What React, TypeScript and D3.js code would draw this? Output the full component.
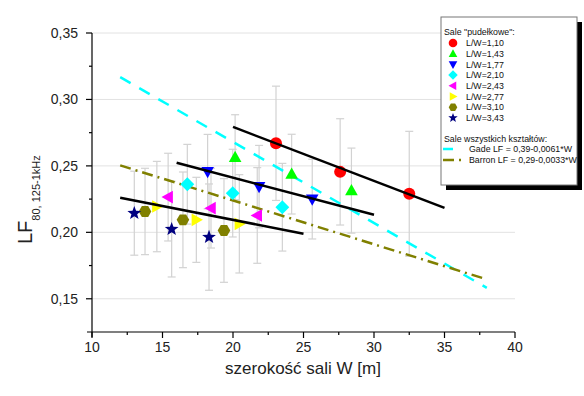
import React, { useEffect, useRef } from 'react';
import * as d3 from 'd3';

// Series: rooms grouped by L/W ratio
const seriesLabels = ['L/W=1,10', 'L/W=1,43', 'L/W=1,77', 'L/W=2,10', 'L/W=2,43', 'L/W=2,77', 'L/W=3,10', 'L/W=3,43'];
const seriesColors = ['#ff0000', '#00ff00', '#0000ff', '#00ffff', '#ff00ff', '#ffff00', '#808000', '#000080'];
const seriesShapes = ['circle', 'triangleUp', 'triangleDown', 'diamond', 'triangleLeft', 'triangleRight', 'hexagon', 'star'];

const widthW = [
  [23.05, 27.6, 32.5],
  [20.15, 24.16, 28.4],
  [18.2, 21.85, 25.62],
  [16.76, 19.98, 23.5],
  [15.4, 18.44, 21.72],
  [14.6, 17.4, 20.45],
  [13.76, 16.45, 19.36],
  [13.0, 15.65, 18.3],
];
const valueLF = [
  [0.267, 0.2455, 0.229],
  [0.2565, 0.2438, 0.2314],
  [0.2457, 0.2344, 0.225],
  [0.2362, 0.2295, 0.2189],
  [0.2265, 0.2182, 0.2127],
  [0.2194, 0.2094, 0.2064],
  [0.2157, 0.2094, 0.2014],
  [0.2144, 0.2024, 0.1964],
];
const errorLF = [
  [0.043, 0.04, 0.047],
  [0.032, 0.03, 0.032],
  [0.028, 0.031, 0.03],
  [0.03, 0.033, 0.033],
  [0.033, 0.03, 0.036],
  [0.034, 0.032, 0.037],
  [0.0325, 0.036, 0.039],
  [0.0316, 0.036, 0.04],
];

// Black regression segments
const fitLines: [number, number][][] = [
  [[20, 0.2793], [35, 0.2184]],
  [[16, 0.2523], [30, 0.2132]],
  [[12, 0.226], [25, 0.199]],
];
const gadeLine: [number, number][] = [[12, 0.3168], [38, 0.1582]];
const barronLine: [number, number][] = [[12, 0.2504], [38, 0.1646]];

const xTicks = [10, 15, 20, 25, 30, 35, 40];
const xMinorTicks = [12.5, 17.5, 22.5, 27.5, 32.5, 37.5];
const yTicks = [0.15, 0.2, 0.25, 0.3, 0.35];
const yMinorTicks = [0.175, 0.225, 0.275, 0.325];

const FONT = 'Arial, "Liberation Sans", sans-serif';

function shapePath(shape: string, s: number): string {
  const poly = (pts: [number, number][]) => 'M' + pts.map((p) => p.join(',')).join('L') + 'Z';
  switch (shape) {
    case 'circle':
      return `M${-s},0A${s},${s} 0 1,0 ${s},0A${s},${s} 0 1,0 ${-s},0Z`;
    case 'triangleUp':
      return poly([[0, -s * 1.05], [s * 1.0, s * 0.75], [-s * 1.0, s * 0.75]]);
    case 'triangleDown':
      return poly([[0, s * 1.05], [s * 1.0, -s * 0.75], [-s * 1.0, -s * 0.75]]);
    case 'triangleLeft':
      return poly([[-s * 1.05, 0], [s * 0.75, -s * 1.0], [s * 0.75, s * 1.0]]);
    case 'triangleRight':
      return poly([[s * 1.05, 0], [-s * 0.75, -s * 1.0], [-s * 0.75, s * 1.0]]);
    case 'diamond':
      return poly([[0, -s * 1.1], [s * 1.1, 0], [0, s * 1.1], [-s * 1.1, 0]]);
    case 'hexagon':
      return poly(d3.range(6).map((i) => [s * Math.cos((i * Math.PI) / 3), s * Math.sin((i * Math.PI) / 3)] as [number, number]));
    case 'star':
      return poly(
        d3.range(10).map((i) => {
          const r = i % 2 === 0 ? s * 1.15 : s * 0.48;
          const a = -Math.PI / 2 + (i * Math.PI) / 5;
          return [r * Math.cos(a), r * Math.sin(a)] as [number, number];
        })
      );
    default:
      return '';
  }
}

export default function App() {
  const svgRef = useRef<SVGSVGElement>(null);
  const width = 584;
  const height = 396;

  useEffect(() => {
    if (!svgRef.current) return;
    const svg = d3.select(svgRef.current);
    svg.selectAll('*').remove();

    const xScale = d3.scaleLinear().domain([10, 40]).range([92, 515]);
    const yScale = d3.scaleLinear().domain([0.125, 0.35]).range([332, 33]);

    // Horizontal grid
    svg.append('g')
      .selectAll('line')
      .data(yTicks)
      .enter()
      .append('line')
      .attr('x1', xScale(10))
      .attr('x2', xScale(40))
      .attr('y1', (d) => yScale(d))
      .attr('y2', (d) => yScale(d))
      .attr('stroke', '#e2e2e2')
      .attr('stroke-width', 1);

    // Error bars
    const errG = svg.append('g').attr('stroke', '#d2d2d2').attr('stroke-width', 1.2);
    widthW.forEach((ws, si) => {
      ws.forEach((w, i) => {
        const cx = xScale(w);
        const top = yScale(valueLF[si][i] + errorLF[si][i]);
        const bot = yScale(valueLF[si][i] - errorLF[si][i]);
        errG.append('line').attr('x1', cx).attr('x2', cx).attr('y1', top).attr('y2', bot);
        errG.append('line').attr('x1', cx - 4).attr('x2', cx + 4).attr('y1', top).attr('y2', top);
        errG.append('line').attr('x1', cx - 4).attr('x2', cx + 4).attr('y1', bot).attr('y2', bot);
      });
    });

    const line = d3.line<[number, number]>()
      .x((d) => xScale(d[0]))
      .y((d) => yScale(d[1]));

    // Gade & Barron lines
    svg.append('path')
      .attr('d', line(gadeLine))
      .attr('fill', 'none')
      .attr('stroke', '#00ffff')
      .attr('stroke-width', 2.5)
      .attr('stroke-dasharray', '12,10');
    svg.append('path')
      .attr('d', line(barronLine))
      .attr('fill', 'none')
      .attr('stroke', '#808000')
      .attr('stroke-width', 2.5)
      .attr('stroke-dasharray', '11,5,2,5');

    // Markers
    widthW.forEach((ws, si) => {
      svg.append('g')
        .selectAll('path')
        .data(ws.map((w, i) => [w, valueLF[si][i]] as [number, number]))
        .enter()
        .append('path')
        .attr('d', shapePath(seriesShapes[si], si === 0 ? 6 : 6.3))
        .attr('transform', (d) => `translate(${xScale(d[0])},${yScale(d[1])})`)
        .attr('fill', seriesColors[si]);
    });

    // Black fit segments
    fitLines.forEach((seg) => {
      svg.append('path')
        .attr('d', line(seg))
        .attr('fill', 'none')
        .attr('stroke', '#000')
        .attr('stroke-width', 2.5);
    });

    // Axes
    const axG = svg.append('g').attr('stroke', '#000').attr('stroke-width', 1.2);
    axG.append('line').attr('x1', xScale(10)).attr('x2', xScale(10)).attr('y1', yScale(0.35)).attr('y2', yScale(0.125) + 5);
    axG.append('line').attr('x1', xScale(10) - 5).attr('x2', xScale(40)).attr('y1', yScale(0.125)).attr('y2', yScale(0.125));
    yTicks.forEach((t) => {
      axG.append('line').attr('x1', xScale(10) - 6).attr('x2', xScale(10)).attr('y1', yScale(t)).attr('y2', yScale(t));
    });
    yMinorTicks.forEach((t) => {
      axG.append('line').attr('x1', xScale(10) - 3).attr('x2', xScale(10)).attr('y1', yScale(t)).attr('y2', yScale(t));
    });
    xTicks.forEach((t) => {
      axG.append('line').attr('x1', xScale(t)).attr('x2', xScale(t)).attr('y1', yScale(0.125)).attr('y2', yScale(0.125) + 6);
    });
    xMinorTicks.forEach((t) => {
      axG.append('line').attr('x1', xScale(t)).attr('x2', xScale(t)).attr('y1', yScale(0.125)).attr('y2', yScale(0.125) + 3);
    });

    const fmt = (v: number) => v.toFixed(2).replace('.', ',');
    svg.append('g')
      .selectAll('text')
      .data(yTicks)
      .enter()
      .append('text')
      .attr('x', 78)
      .attr('y', (d) => yScale(d) + 5)
      .attr('text-anchor', 'end')
      .attr('font-family', FONT)
      .attr('font-size', 14)
      .attr('fill', '#222')
      .text((d) => fmt(d));
    svg.append('g')
      .selectAll('text')
      .data(xTicks)
      .enter()
      .append('text')
      .attr('x', (d) => xScale(d))
      .attr('y', 352)
      .attr('text-anchor', 'middle')
      .attr('font-family', FONT)
      .attr('font-size', 14)
      .attr('fill', '#222')
      .text((d) => String(d));

    // Axis titles
    svg.append('text')
      .attr('x', 303)
      .attr('y', 374)
      .attr('text-anchor', 'middle')
      .attr('font-family', FONT)
      .attr('font-size', 17)
      .attr('fill', '#222')
      .text('szerokość sali W [m]');
    const yTitle = svg.append('text')
      .attr('transform', 'translate(32,244) rotate(-90)')
      .attr('font-family', FONT)
      .attr('fill', '#222');
    yTitle.append('tspan').attr('font-size', 20).text('LF');
    yTitle.append('tspan').attr('font-size', 11).attr('dy', 8).text('80, 125-1kHz');

    // Legend
    const lg = svg.append('g');
    lg.append('rect').attr('x', 446).attr('y', 22).attr('width', 136).attr('height', 168).attr('fill', '#000');
    lg.append('rect')
      .attr('x', 441)
      .attr('y', 17)
      .attr('width', 136)
      .attr('height', 168)
      .attr('fill', '#fff')
      .attr('stroke', '#777')
      .attr('stroke-width', 1);
    const lgText = (x: number, y: number, t: string) =>
      lg.append('text')
        .attr('x', x)
        .attr('y', y)
        .attr('font-family', FONT)
        .attr('font-size', 8.8)
        .attr('fill', '#111')
        .text(t);
    lgText(444, 35, 'Sale "pudełkowe":');
    seriesLabels.forEach((lab, i) => {
      const cy = 43 + i * 10.7;
      lg.append('path')
        .attr('d', shapePath(seriesShapes[i], 4.3))
        .attr('transform', `translate(453,${cy})`)
        .attr('fill', seriesColors[i]);
      lgText(466, cy + 3.2, lab);
    });
    lgText(444, 141.5, 'Sale wszystkich kształtów:');
    lg.append('line').attr('x1', 443).attr('x2', 453).attr('y1', 149).attr('y2', 149)
      .attr('stroke', '#00ffff').attr('stroke-width', 2.5);
    lgText(469, 152, 'Gade LF = 0,39-0,0061*W');
    lg.append('line').attr('x1', 443).attr('x2', 462).attr('y1', 160).attr('y2', 160)
      .attr('stroke', '#808000').attr('stroke-width', 2.5).attr('stroke-dasharray', '11,5,2,5');
    lgText(469, 163, 'Barron LF = 0,29-0,0033*W');
  }, []);

  return (
    <div style={{ position: 'absolute', left: 0, top: 0 }}>
      <svg ref={svgRef} width={width} height={height} style={{ display: 'block', background: '#fff' }} />
    </div>
  );
}
